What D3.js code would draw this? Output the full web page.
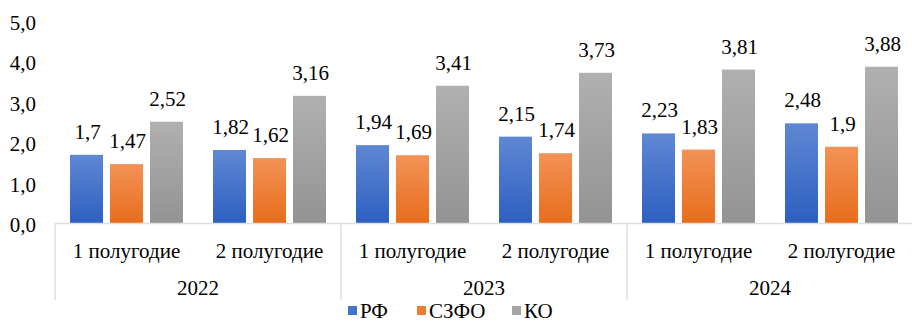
<!DOCTYPE html>
<html>
<head>
<meta charset="utf-8">
<script src="https://cdn.jsdelivr.net/npm/d3@7"></script>
<style>
  html, body { margin: 0; padding: 0; background: #fff; }
  svg { display: block; }
</style>
</head>
<body>
<svg id="chart" width="912" height="322" font-family="Liberation Serif, DejaVu Serif, serif"></svg>
<script>
// Categories
const years = ["2022", "2023", "2024"];
const halves = ["1 полугодие", "2 полугодие"];
const seriesNames = ["РФ", "СЗФО", "КО"];

// Series values, one per half-year (2022 H1 … 2024 H2)
const valuesRF   = [1.7, 1.82, 1.94, 2.15, 2.23, 2.48];
const valuesSZFO = [1.47, 1.62, 1.69, 1.74, 1.83, 1.9];
const valuesKO   = [2.52, 3.16, 3.41, 3.73, 3.81, 3.88];

// Y axis ticks
const yTicks = [0, 1, 2, 3, 4, 5];

const FONT = "Liberation Serif";
const FS = 21;
const seriesValues = [valuesRF, valuesSZFO, valuesKO];
const periods = [];
years.forEach(yv => halves.forEach(h => periods.push({ year: yv, half: h, key: yv + "|" + h })));

const svg = d3.select("#chart");
const plotLeft = 55, plotRight = 913, plotTop = 21.5, base = 223.5;

const x = d3.scaleBand().domain(periods.map(p => p.key)).range([plotLeft, plotRight]).padding(0);
const xs = d3.scaleBand().domain(seriesNames).range([0, x.bandwidth()])
  .paddingInner(0.175).paddingOuter(0.375);
const y = d3.scaleLinear().domain([0, 5]).range([base, plotTop]);

const fmt = v => String(v).replace(".", ",");

// Gradients for bar fills
const defs = svg.append("defs");
const grads = [
  ["#5f88d4", "#2d5fc0"],
  ["#f39257", "#e76d1b"],
  ["#b0b0b0", "#939393"]
];
grads.forEach((g, i) => {
  const lg = defs.append("linearGradient").attr("id", "g" + i)
    .attr("x1", 0).attr("y1", 0).attr("x2", 0).attr("y2", 1);
  lg.append("stop").attr("offset", "0%").attr("stop-color", g[0]);
  lg.append("stop").attr("offset", "100%").attr("stop-color", g[1]);
});
const solid = ["#4472c4", "#ed7d31", "#a5a5a5"];

// Y axis labels
svg.append("g").selectAll("text").data(yTicks).join("text")
  .attr("font-family", FONT)
  .attr("x", 36).attr("y", d => y(d) + 1.5)
  .attr("text-anchor", "end").attr("dominant-baseline", "central")
  .attr("font-size", FS).attr("fill", "#000")
  .text(d => d.toFixed(1).replace(".", ","));

// Bars and value labels
const groups = svg.append("g").selectAll("g").data(periods).join("g")
  .attr("transform", p => `translate(${x(p.key)},0)`);

seriesNames.forEach((s, si) => {
  groups.append("rect")
    .attr("x", xs(s)).attr("width", xs.bandwidth())
    .attr("y", (p, i) => y(seriesValues[si][i]))
    .attr("height", (p, i) => base - y(seriesValues[si][i]))
    .attr("fill", `url(#g${si})`);
  groups.append("text")
    .attr("font-family", FONT)
    .attr("x", xs(s) + xs.bandwidth() / 2 + 1)
    .attr("y", (p, i) => y(seriesValues[si][i]) - 16)
    .attr("text-anchor", "middle").attr("font-size", FS).attr("fill", "#000")
    .text((p, i) => fmt(seriesValues[si][i]));
});

// Category axis: baseline and year separators
const axisColor = "#dbe0e6";
svg.append("line").attr("x1", plotLeft).attr("x2", plotRight).attr("y1", base).attr("y2", base)
  .attr("stroke", axisColor).attr("stroke-width", 1.5);
const yearEdges = years.map(yv => x(yv + "|" + halves[0])).concat([plotRight]);
svg.append("g").selectAll("line").data(yearEdges).join("line")
  .attr("x1", d => d).attr("x2", d => d).attr("y1", base).attr("y2", 300)
  .attr("stroke", axisColor).attr("stroke-width", 1.5);

// Half-year labels
svg.append("g").selectAll("text").data(periods).join("text")
  .attr("font-family", FONT)
  .attr("x", p => x(p.key) + x.bandwidth() / 2).attr("y", 251)
  .attr("text-anchor", "middle").attr("dominant-baseline", "central")
  .attr("font-size", FS).attr("fill", "#000")
  .text(p => p.half);

// Year labels
svg.append("g").selectAll("text").data(years).join("text")
  .attr("font-family", FONT)
  .attr("x", yv => x(yv + "|" + halves[0]) + x.bandwidth()).attr("y", 288)
  .attr("text-anchor", "middle").attr("dominant-baseline", "central")
  .attr("font-size", FS).attr("fill", "#000")
  .text(yv => yv);

// Legend
const legendX = [348, 417, 512];
const legend = svg.append("g").selectAll("g").data(seriesNames).join("g")
  .attr("transform", (d, i) => `translate(${legendX[i]},306)`);
legend.append("rect").attr("width", 9).attr("height", 9).attr("fill", (d, i) => solid[i]);
legend.append("text").attr("font-family", FONT)
  .attr("x", 12).attr("y", 5).attr("dominant-baseline", "central")
  .attr("font-size", FS).attr("fill", "#000").text(d => d);
</script>
</body>
</html>
